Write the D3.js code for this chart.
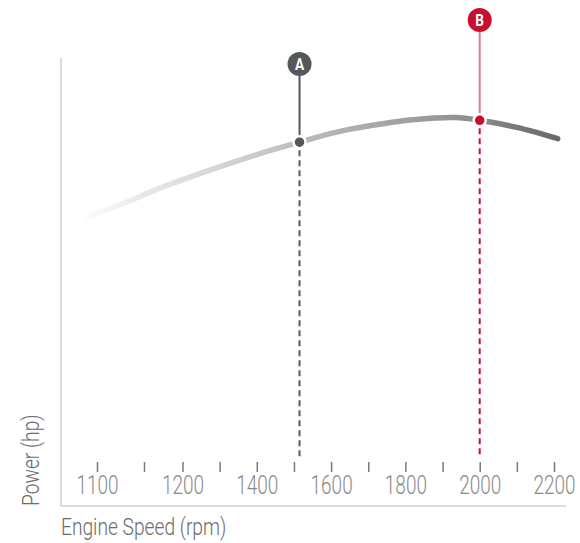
<!DOCTYPE html>
<html>
<head>
<meta charset="utf-8">
<script src="https://cdn.jsdelivr.net/npm/d3@7"></script>
<style>
  body { margin: 0; background: #fff; }
  text { font-family: Roboto, "Liberation Sans", sans-serif; font-weight: 300; }
</style>
</head>
<body>
<svg id="chart" width="580" height="543"></svg>
<script>
// --- data ---
const curveRpm = [1090, 1125, 1170, 1250, 1350, 1450, 1515, 1570, 1645, 1730, 1820, 1935, 2000, 2100, 2210];
const curvePower = [64.5, 67.3, 70.9, 74.3, 77.1, 79.7, 81.2, 82.5, 84.0, 85.2, 86.2, 86.7, 86.1, 84.5, 82.0];

const tickValues = [1100, 1150, 1200, 1300, 1400, 1500, 1600, 1700, 1800, 1900, 2000, 2100, 2200];
const tickLabels = ["1100", "", "1200", "", "1400", "", "1600", "", "1800", "", "2000", "", "2200"];

const markerNames = ["A", "B"];
const markerRpm = [1515, 2000];
const markerPower = [81.2, 86.1];

// --- layout / style ---
const CONFIG = {
  frame: { left: 61, top: 58, bottom: 506, right: 566 },
  tickTop: 462,
  tickSize: 10,
  dashBottom: 458,
  labelRadius: 12,
  pointRadius: 6,
  narrow: 0.76, // squeeze text horizontally, the original uses a condensed face
  titleNarrow: 0.8,
  labelY: { A: 64, B: 20 },
  colors: {
    A: { main: "#55585b", stem: "#55585b" },
    B: { main: "#c8102e", stem: "#e8788a" }
  }
};

const svg = d3.select("#chart");

// x axis is not even at the left end in the original graphic
const x = d3.scaleLinear().domain([1100, 1150, 1200, 2200]).range([97, 144, 182.5, 554]);
const y = d3.scaleLinear().domain([0, 100]).range([CONFIG.frame.bottom, CONFIG.frame.top]);

// frame
svg.append("path")
  .attr("d", `M${CONFIG.frame.left},${CONFIG.frame.top}V${CONFIG.frame.bottom}H${CONFIG.frame.right}`)
  .attr("fill", "none")
  .attr("stroke", "#cfcfcf")
  .attr("stroke-width", 1.5);

// ticks + labels
const axis = svg.append("g")
  .attr("transform", `translate(0,${CONFIG.tickTop})`)
  .call(d3.axisBottom(x).tickValues(tickValues).tickSize(CONFIG.tickSize).tickPadding(4)
    .tickFormat((d, i) => tickLabels[i]));
axis.select(".domain").remove();
axis.selectAll(".tick line").attr("stroke", "#7a7a7a").attr("stroke-width", 1.5);
axis.selectAll(".tick text")
  .attr("fill", "#8a8a8a")
  .attr("transform", `scale(${CONFIG.narrow},1)`)
  .style("font-size", "25px")
  .style("font-family", null);

// axis titles
svg.append("text")
  .attr("transform", `translate(${CONFIG.frame.left},535) scale(${CONFIG.titleNarrow},1)`)
  .attr("fill", "#6b6b6b")
  .style("font-size", "24px")
  .text("Engine Speed (rpm)");

svg.append("text")
  .attr("transform", `translate(39,${CONFIG.frame.bottom}) rotate(-90) scale(${CONFIG.titleNarrow},1)`)
  .attr("fill", "#6b6b6b")
  .style("font-size", "24px")
  .text("Power (hp)");

// gradient along the curve
const grad = svg.append("defs").append("linearGradient")
  .attr("id", "curveGrad")
  .attr("gradientUnits", "userSpaceOnUse")
  .attr("x1", x(curveRpm[0])).attr("x2", x(curveRpm[curveRpm.length - 1]))
  .attr("y1", 0).attr("y2", 0);
grad.selectAll("stop")
  .data([
    [0, "#fbfbfb"], [0.12, "#e8e8e8"], [0.3, "#d2d2d2"], [0.45, "#bdbdbd"],
    [0.65, "#a3a3a3"], [0.82, "#8e8e8e"], [0.9, "#7a7a7a"], [1, "#6a6a6a"]
  ])
  .join("stop")
  .attr("offset", d => d[0])
  .attr("stop-color", d => d[1]);

const line = d3.line()
  .x((d, i) => x(curveRpm[i]))
  .y(d => y(d))
  .curve(d3.curveCatmullRom.alpha(0.5));

svg.append("path")
  .datum(curvePower)
  .attr("d", line)
  .attr("fill", "none")
  .attr("stroke", "url(#curveGrad)")
  .attr("stroke-width", 5.5)
  .attr("stroke-linecap", "round");

// markers
const markers = markerNames.map((name, i) => ({ name, rpm: markerRpm[i], power: markerPower[i] }));

const mg = svg.selectAll("g.marker")
  .data(markers)
  .join("g")
  .attr("class", "marker");

// dashed drop line
mg.append("line")
  .attr("x1", d => x(d.rpm)).attr("x2", d => x(d.rpm))
  .attr("y1", d => y(d.power) + CONFIG.pointRadius + 2)
  .attr("y2", CONFIG.dashBottom)
  .attr("stroke", d => CONFIG.colors[d.name].main)
  .attr("stroke-width", 2)
  .attr("stroke-dasharray", "6,4");

// stem up to label
mg.append("line")
  .attr("x1", d => x(d.rpm)).attr("x2", d => x(d.rpm))
  .attr("y1", d => CONFIG.labelY[d.name] + CONFIG.labelRadius)
  .attr("y2", d => y(d.power) - CONFIG.pointRadius)
  .attr("stroke", d => CONFIG.colors[d.name].stem)
  .attr("stroke-width", 2);

mg.append("circle")
  .attr("cx", d => x(d.rpm))
  .attr("cy", d => y(d.power))
  .attr("r", CONFIG.pointRadius)
  .attr("fill", d => CONFIG.colors[d.name].main)
  .attr("stroke", "#fff")
  .attr("stroke-width", 2.5);

mg.append("circle")
  .attr("cx", d => x(d.rpm))
  .attr("cy", d => CONFIG.labelY[d.name])
  .attr("r", CONFIG.labelRadius)
  .attr("fill", d => CONFIG.colors[d.name].main);

mg.append("text")
  .attr("transform", d => `translate(${x(d.rpm)},${CONFIG.labelY[d.name]}) scale(0.85,1)`)
  .attr("dy", "0.36em")
  .attr("text-anchor", "middle")
  .attr("fill", "#fff")
  .style("font-size", "16px")
  .style("font-weight", "bold")
  .text(d => d.name);
</script>
</body>
</html>
